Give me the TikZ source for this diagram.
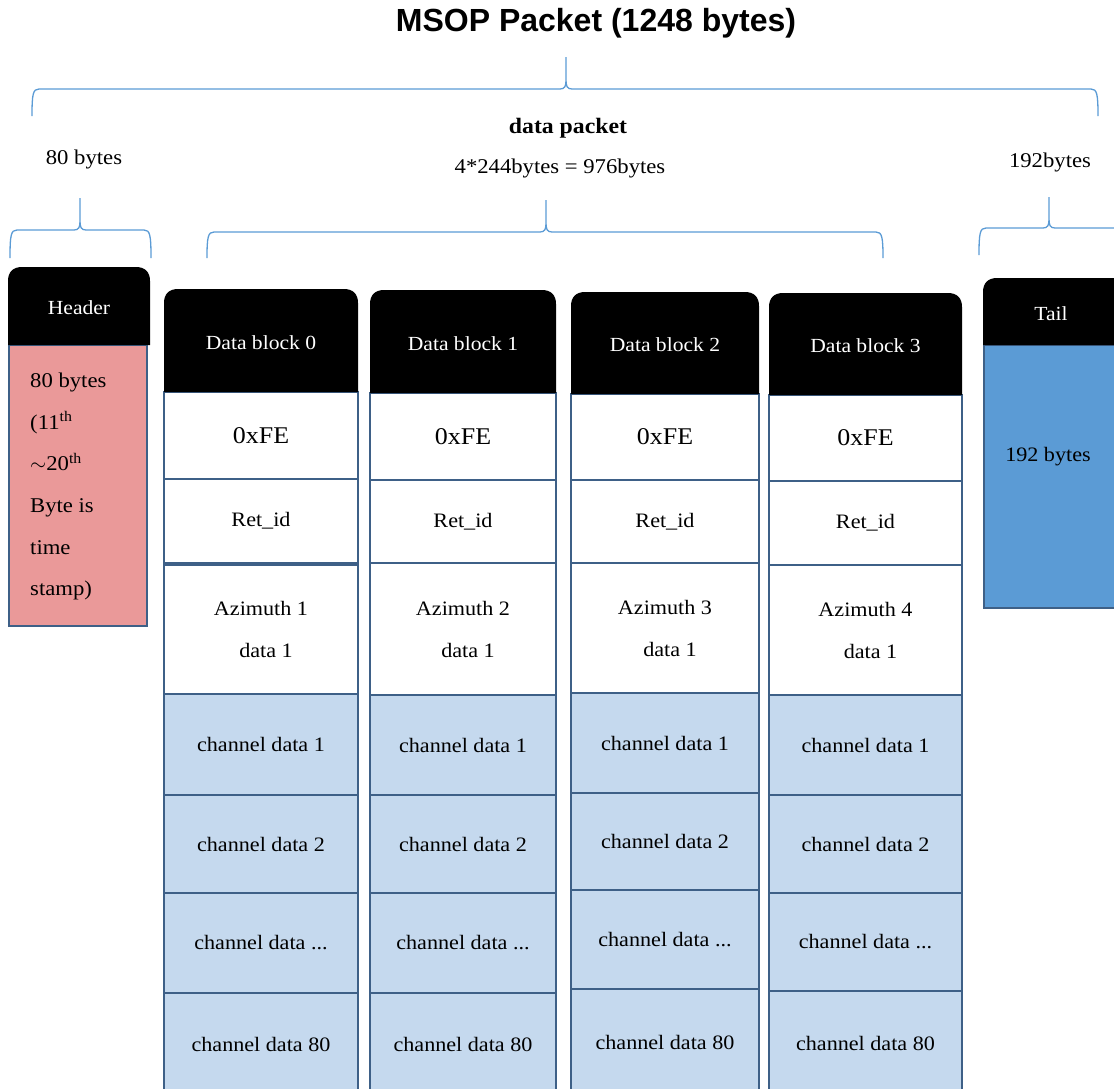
\documentclass[tikz,border=0pt]{standalone}
\usepackage{fontspec}
\setmainfont[FakeStretch=1.08]{Liberation Serif}
\newfontfamily\titlefont{Liberation Sans}
\definecolor{braceblue}{RGB}{91,155,213}
\definecolor{cellline}{RGB}{62,96,135}
\definecolor{chanblue}{RGB}{197,217,238}
\definecolor{headerpink}{RGB}{234,153,153}
\definecolor{tailblue}{RGB}{91,155,213}
\newcommand\fsz[2]{\fontsize{#1}{#2}\selectfont}
% rectangular cell node given by its corners
\newcommand\mkcell[7]{%
  \pgfmathsetmacro\cbw{#4-#2}\pgfmathsetmacro\cbh{#5-#3}%
  \node[#6, minimum width=\cbw pt, minimum height=\cbh pt] (#1) at ({(#2+#4)/2},{(#3+#5)/2}) {#7};}
% black block head with rounded top corners
\newcommand\mkhead[6]{%
  \fill[black] (#2,#5) -- (#2,#3+14) .. controls (#2,#3+5) and (#2+5,#3) .. (#2+14,#3)
    -- (#4-14,#3) .. controls (#4-5,#3) and (#4,#3+5) .. (#4,#3+14) -- (#4,#5) -- cycle;
  \node[headtxt] (#1) at ({(#2+#4)/2},{(#3+#5)/2+2}) {#6};}
% curly brace: x0, x1, cusp x, line y, cusp top y, end y
\newcommand\drawbrace[6]{%
  \draw[bracestyle] (#1,#6) .. controls (#1,#4+5) and (#1+1,#4) .. (#1+7,#4)
    -- (#3-6,#4) .. controls (#3-1,#4) and (#3,#4-3) .. (#3,#4-9) -- (#3,#5)
    (#3,#4-9) .. controls (#3,#4-3) and (#3+1,#4) .. (#3+6,#4)
    -- (#2-7,#4) .. controls (#2-1,#4) and (#2,#4+5) .. (#2,#6);}
\tikzset{
  bracestyle/.style={draw=braceblue, line width=1.3pt},
  headtxt/.style={text=white, inner sep=0pt, font=\fsz{20}{24}},
  cell/.style={draw=cellline, line width=1.4pt, inner sep=0pt, font=\fsz{20.5}{24}},
  whitecell/.style={cell, fill=white},
  chancell/.style={cell, fill=chanblue},
  sizelabel/.style={inner sep=0pt, font=\fsz{21}{25}},
}
\begin{document}
\begin{tikzpicture}[x=1pt, y=-1pt]
\useasboundingbox (0,0) rectangle (1114,1088);
\clip (0,0) rectangle (1114,1088);

% titles and size labels
\node[inner sep=0pt, font=\titlefont\bfseries\fsz{32}{36}] (title) at (596,23) {MSOP Packet (1248 bytes)};
\node[inner sep=0pt, font=\bfseries\fsz{22}{26}] (dpk) at (568,128) {data packet};
\node[sizelabel] (dsize) at (560,168) {4*244bytes = 976bytes};
\node[sizelabel] (hsize) at (84,159) {80 bytes};
\node[sizelabel] (tsize) at (1050,162) {192bytes};

% braces
\drawbrace{32}{1098}{566}{89}{57}{116}
\drawbrace{10}{151}{80}{230}{198}{258}
\drawbrace{207}{883}{546}{232}{200}{258}
\drawbrace{979}{1190}{1049}{228}{197}{255}

% header
\mkcell{hbody}{9}{345}{147}{626}{cell, fill=headerpink, line width=2.4pt}{}
\mkhead{header}{8}{267}{150}{345}{Header}
\node[anchor=north west, inner sep=0pt, align=left, font=\fsz{21}{41.6}] (htext) at (30,373)
  {80 bytes\\(11\textsuperscript{th}\\$\sim$20\textsuperscript{th}\\Byte is\\time\\stamp)};

% tail
\mkcell{tbody}{984}{345}{1140}{608}{cell, fill=tailblue, line width=2.4pt}{}
\mkhead{tail}{983}{278}{1140}{345}{}
\node[headtxt] (tailtxt) at (1051,314) {Tail};
\node[cell, draw=none] (ttext) at (1048,457) {192 bytes};

% data blocks
\foreach \i/\xa/\xb/\h/\ya/\yb/\yc/\yd/\ye/\yf/\yg/\yh in {
  0/164/358/289/392/479/563/565/694/795/893/993,
  1/370/556/290/393/480/563/563/695/795/893/993,
  2/571/759/292/394/480/563/563/693/793/890/989,
  3/769/962/293/395/481/565/565/695/795/893/991}{
  \pgfmathtruncatemacro\az{\i+1}
  \mkcell{fe\i}{\xa}{\ya}{\xb}{\yb}{whitecell, font=\fsz{24}{28}}{0xFE}
  \mkcell{rid\i}{\xa}{\yb}{\xb}{\yc}{whitecell}{Ret\_id}
  \mkcell{az\i}{\xa}{\yd}{\xb}{\ye}{whitecell, align=center, font=\fsz{20.5}{42}}{Azimuth \az\\\hspace*{10pt}data 1}
  \mkcell{ch1\i}{\xa}{\ye}{\xb}{\yf}{chancell}{channel data 1}
  \mkcell{ch2\i}{\xa}{\yf}{\xb}{\yg}{chancell}{channel data 2}
  \mkcell{chn\i}{\xa}{\yg}{\xb}{\yh}{chancell}{channel data ...}
  \mkcell{ch80\i}{\xa}{\yh}{\xb}{1096}{chancell}{channel data 80}
  \mkhead{db\i}{\xa}{\h}{\xb}{\ya}{Data block \i}
}
\end{tikzpicture}
\end{document}
